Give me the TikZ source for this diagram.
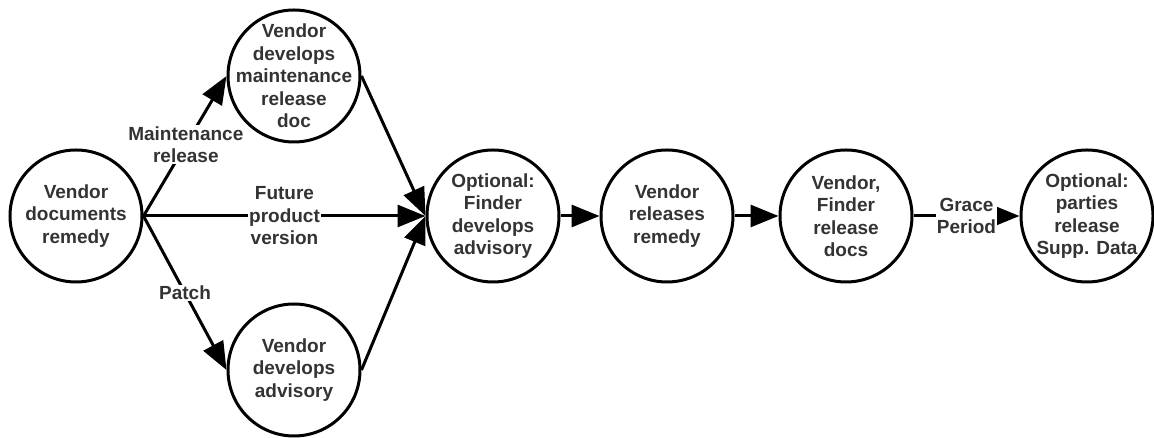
\documentclass[tikz,border=0pt]{standalone}
\usepackage{fontspec}
\setmainfont{Liberation Sans}
\usetikzlibrary{automata,positioning,arrows.meta}

\begin{document}
\begin{tikzpicture}[x=1pt,y=1pt,shorten >=0pt,on grid,
    every state/.style={draw,line width=3pt,minimum size=132pt,inner sep=-20pt,
      align=center,font=\bfseries\fontsize{19}{22.5}\selectfont,text=black!80},
    >={Triangle[length=28pt,width=22pt]},line width=3pt]
    \tikzset{lbl/.style={fill=white,inner sep=1pt,align=center,
      font=\bfseries\fontsize{19}{22.5}\selectfont,text=black!80}}
    \useasboundingbox (0,0) rectangle (1154,438);
    \node[state] (docs) at (76,222) {Vendor\\documents\\remedy};
    \node[state] (mrel) [above right=140pt and 218pt of docs] {Vendor\\develops\\maintenance\\release\\doc};
    \node[state] (vadv) [below right=154pt and 218pt of docs] {Vendor\\develops\\advisory};
    \node[state] (fadv) [right=417pt of docs] {Optional:\\Finder\\develops\\advisory};
    \node[state] (rel) [right=174pt of fadv] {Vendor\\releases\\remedy};
    \node[state] (rdocs) [right=179pt of rel] {Vendor,\\Finder\\release\\docs};
    \node[state] (supp) [right=241pt of rdocs] {Optional:\\parties\\release\\Supp. Data};
    \path[->]
    (docs.east)
    edge node [lbl,pos=0.51] {Maintenance\\release} (mrel.west)
    edge node [lbl] {Future\\product\\version} (fadv.west)
    edge node [lbl] {Patch} (vadv.west)
    (mrel.east) edge (fadv.west)
    (vadv.east) edge (fadv.west)
    (fadv.east) edge (rel.west)
    (rel.east) edge (rdocs.west)
    (rdocs.east)
    edge node [lbl] {Grace\\Period} (supp.west)
    ;
\end{tikzpicture}
\end{document}
